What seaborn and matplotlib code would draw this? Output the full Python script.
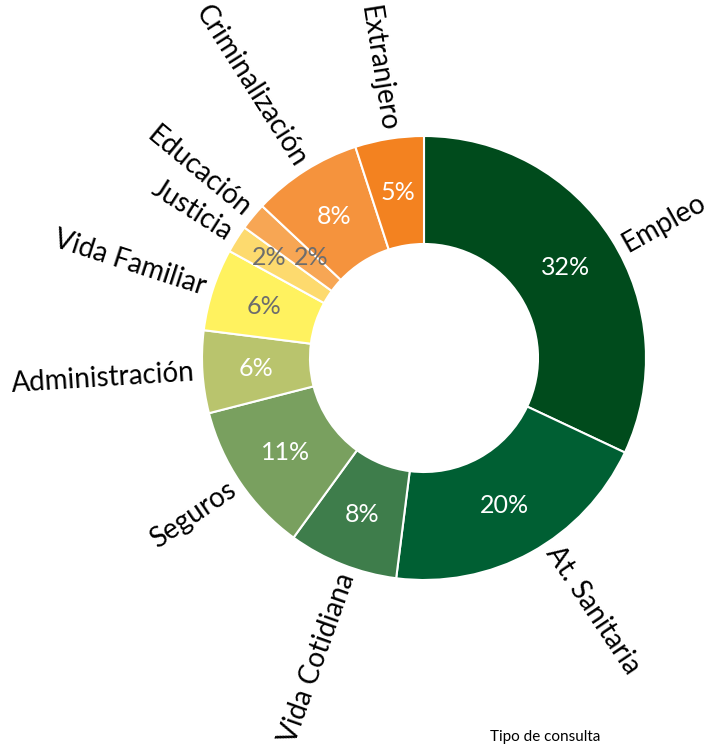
import numpy as np
import matplotlib
matplotlib.use("Agg")
import matplotlib.pyplot as plt
import seaborn as sns

categories = ["Empleo", "At. Sanitaria", "Vida Cotidiana", "Seguros", "Administración",
              "Vida Familiar", "Justicia", "Educación", "Criminalización", "Extranjero"]
values = [32, 20, 8, 11, 6, 6, 2, 2, 8, 5]
colors = ["#004B1C", "#005F33", "#3E7D4B", "#79A05F", "#B9C46D",
          "#FFF25F", "#FDDA6E", "#F7A654", "#F5933D", "#F38220"]
pct_colors = ["white", "white", "white", "white", "white",
              "#6d6d6d", "#6d6d6d", "#6d6d6d", "white", "white"]
title = "Tipo de consulta"

# small angular nudges (degrees) for outer category labels
label_nudge = {"Empleo": -3, "At. Sanitaria": 5, "Vida Cotidiana": 2}

sns.set_theme(style="white")
plt.rcParams['font.family'] = ['Lato', 'DejaVu Sans']

fig = plt.figure(figsize=(7.24, 7.47), dpi=100)
ax = fig.add_axes([0, 0, 1, 1])
ax.axis("off")

inner = 114 / 222
wedges, _ = ax.pie(values, colors=colors, startangle=90, counterclock=False,
                   radius=1.0, wedgeprops=dict(width=1 - inner, edgecolor="white", linewidth=1.5))

total = sum(values)
cum = 0
pct_pos = []
for w, cat, v, pc in zip(wedges, categories, values, pct_colors):
    mid = 90 - (cum + v / 2) / total * 360
    cum += v
    th = np.deg2rad(mid)
    rp = (1 + inner) / 2
    pct_pos.append([rp * np.cos(th), rp * np.sin(th)])
    lm = mid + label_nudge.get(cat, 0)
    tl = np.deg2rad(lm)
    rl = 1.035
    x, y = rl * np.cos(tl), rl * np.sin(tl)
    ang = ((lm + 180) % 360) - 180
    if -90 <= ang <= 90:
        rot, ha = ang, "left"
    else:
        rot, ha = ang + 180, "right"
    ax.text(x, y, cat, rotation=rot, rotation_mode="anchor", ha=ha, va="center",
            fontsize=20, color="black")

# small neighbouring slices: put their labels side by side horizontally
i, j = categories.index("Justicia"), categories.index("Educación")
ym = (pct_pos[i][1] + pct_pos[j][1]) / 2 + 0.01
xm = (pct_pos[i][0] + pct_pos[j][0]) / 2 + 0.01
pct_pos[i] = [xm - 0.095, ym]
pct_pos[j] = [xm + 0.095, ym]

for (px, py), v, pc in zip(pct_pos, values, pct_colors):
    ax.text(px, py, f"{v}%", ha="center", va="center", color=pc, fontsize=18)

ax.set_xlim(-424 / 222, 300 / 222)
ax.set_ylim(-389 / 222, 358 / 222)
ax.set_aspect("auto")

fig.text(490 / 724, 1 - 737 / 747, title, fontsize=11, ha="left", va="center", color="black")

fig.savefig("out.png", dpi=100)
